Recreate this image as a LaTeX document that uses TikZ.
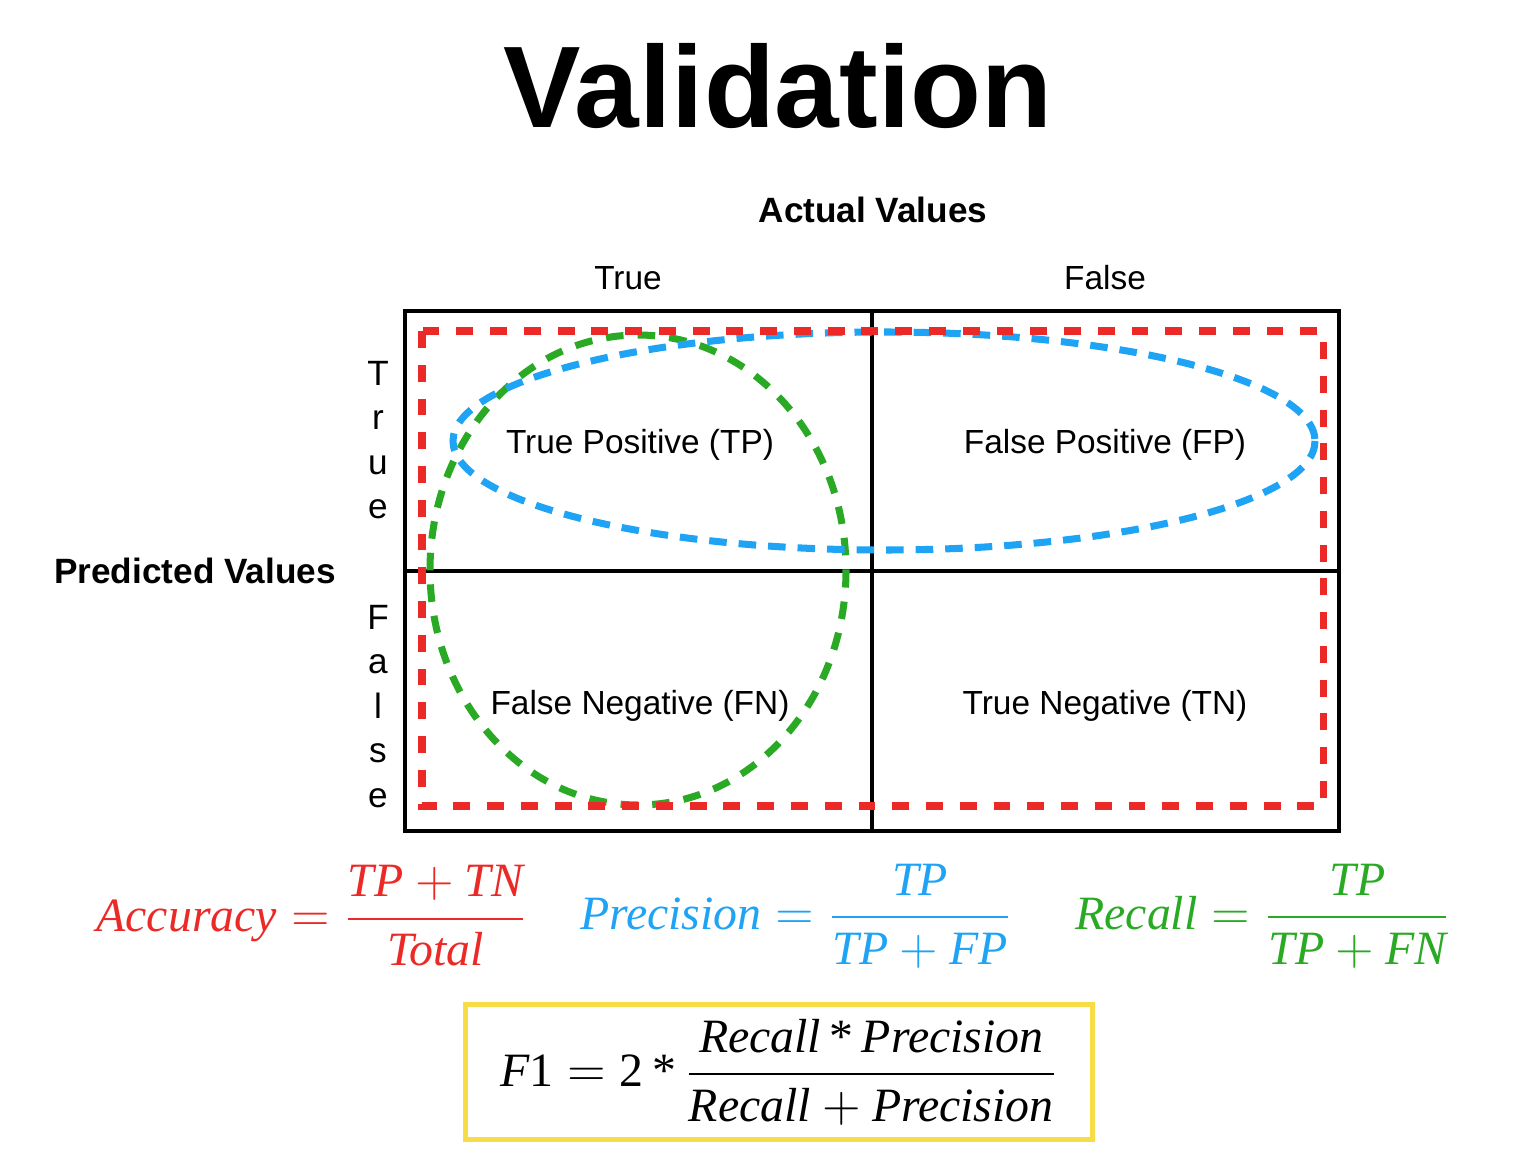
\documentclass[tikz,border=0pt]{standalone}
\usepackage{tikz}
\usepackage{xcolor}
\usepackage{amsmath}
\usepackage{fontspec}
\setmainfont{Liberation Sans}
\newfontfamily\timesfont{Liberation Serif}
\definecolor{accred}{HTML}{EB2A27}
\definecolor{precblue}{HTML}{1FA3F5}
\definecolor{recgreen}{HTML}{2AAA24}
\definecolor{fyellow}{HTML}{F7DC45}
\newcommand{\fv}[1]{\text{\timesfont\itshape #1}}
\newcommand{\fn}[1]{\text{\timesfont #1}}

\begin{document}
\begin{tikzpicture}[x=0.01cm,y=-0.01cm,
    rotulo/.style={anchor=base,font=\fontsize{9.5}{11}\selectfont},
    eixo/.style={anchor=base,font=\bfseries\fontsize{10}{12}\selectfont},
    letra/.style={anchor=base,font=\fontsize{10}{12}\selectfont},
    formula/.style={font=\fontsize{13.6}{16}\selectfont},
    grade/.style={line width=0.9pt},
    tracejado/.style={line width=2pt}]
    \useasboundingbox (0,0) rectangle (1528,1164);

    % Titulo
    \node[anchor=base,font=\bfseries\fontsize{33}{40}\selectfont] (titulo) at (778,128) {Validation};

    % Eixos
    \node[eixo] (actual) at (873,223) {Actual Values};
    \node[rotulo] (coltrue) at (628,290) {True};
    \node[rotulo] (colfalse) at (1105,290) {False};
    \node[eixo] (predicted) at (195,583) {Predicted Values};
    \foreach \l [count=\i from 0] in {T,r,u,e}
        \node[letra] (lt\i) at (378,385+44.5*\i) {\l};
    \foreach \l [count=\i from 0] in {F,a,l,s,e}
        \node[letra] (lf\i) at (378,629+44.5*\i) {\l};

    % Matriz
    \draw[grade] (405,311) rectangle (1339,831);
    \draw[grade] (872,311) -- (872,831) (405,571) -- (1339,571);
    \node[rotulo] (tp) at (640,453) {True Positive (TP)};
    \node[rotulo] (fp) at (1105,453) {False Positive (FP)};
    \node[rotulo] (fn) at (640,714) {False Negative (FN)};
    \node[rotulo] (tn) at (1105,714) {True Negative (TN)};

    % Curvas
    \draw[recgreen,tracejado,dash pattern=on 5pt off 4pt] (638,570) ellipse [x radius=208,y radius=235];
    \draw[precblue,tracejado,dash pattern=on 5pt off 3.4pt] (884,441) ellipse [x radius=431,y radius=109];
    \draw[accred,tracejado,dash pattern=on 4.8pt off 4.8pt] (422,331) rectangle (1323,806);

    % Formulas
    \node[formula,text=accred] (acc) at (312,916)
        {$\displaystyle \fv{Accuracy} = \frac{\fv{TP} + \fv{TN}}{\fv{Total}}$};
    \node[formula,text=precblue] (prec) at (796,916)
        {$\displaystyle \fv{Precision} = \frac{\fv{TP}}{\fv{TP} + \fv{FP}}$};
    \node[formula,text=recgreen] (rec) at (1263,916)
        {$\displaystyle \fv{Recall} = \frac{\fv{TP}}{\fv{TP} + \fv{FN}}$};
    \node[formula,draw=fyellow,line width=1.4pt,minimum width=6.27cm,minimum height=1.35cm] (f1) at (779,1072)
        {$\displaystyle \fv{F}\fn{1} = \fn{2}\,\fn{*}\,\frac{\fv{Recall}\,\fn{*}\,\fv{Precision}}{\fv{Recall} + \fv{Precision}}$};
\end{tikzpicture}
\end{document}
